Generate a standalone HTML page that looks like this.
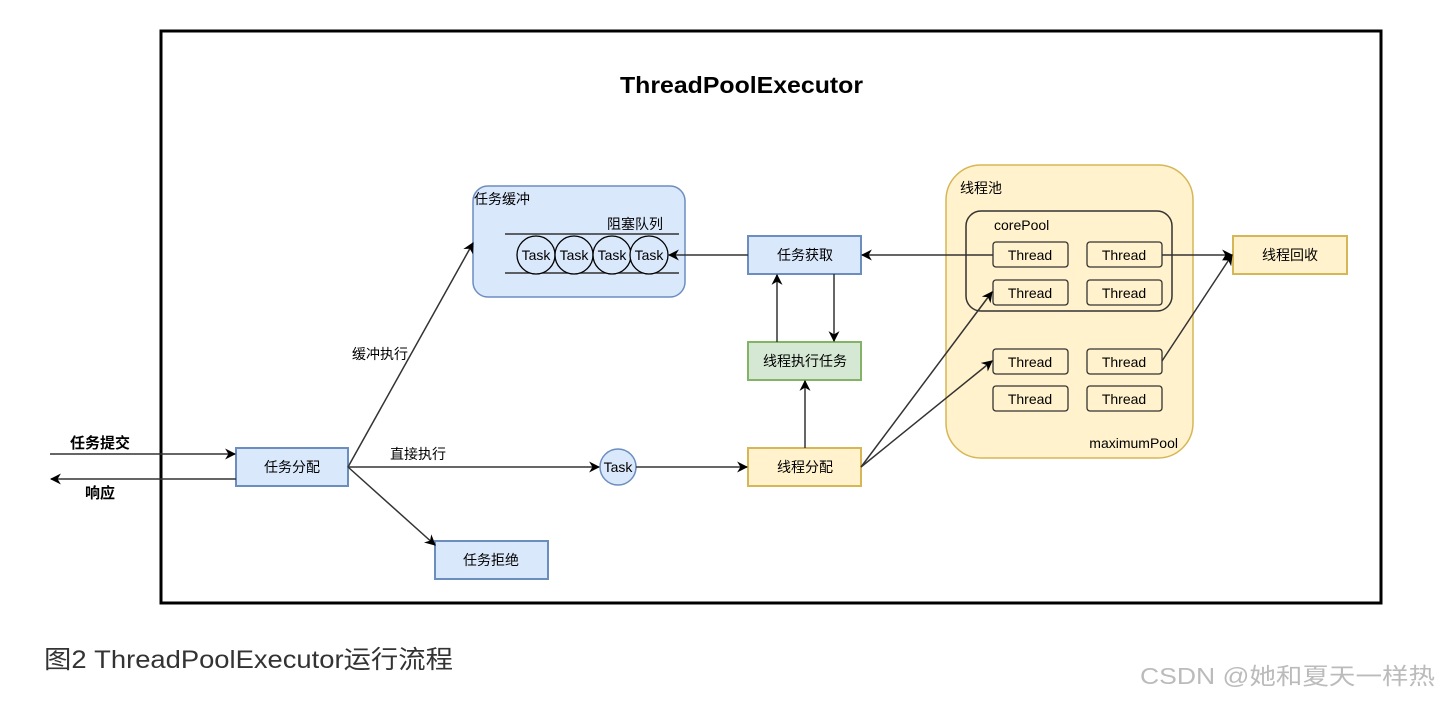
<!DOCTYPE html>
<html><head><meta charset="utf-8"><style>
html,body{margin:0;padding:0;background:#fff;}
svg{display:block;}
text{font-family:"Liberation Sans","Noto Sans CJK SC",sans-serif;}
</style></head><body>
<svg width="1439" height="701" viewBox="0 0 1439 701" xmlns="http://www.w3.org/2000/svg">
<defs>
<marker id="a" viewBox="0 0 10 10" refX="9" refY="5" markerWidth="11" markerHeight="11" orient="auto-start-reverse" markerUnits="userSpaceOnUse"><path d="M0,0 L10,5 L0,10 L3,5 z" fill="#000"/></marker>
</defs>
<rect x="161" y="31" width="1220" height="572" fill="none" stroke="#000" stroke-width="3"/>
<text x="620" y="93" font-size="23" font-weight="bold" textLength="243" lengthAdjust="spacingAndGlyphs">ThreadPoolExecutor</text>

<!-- thread pool -->
<rect x="946" y="165" width="247" height="293" rx="35" fill="#fff2cc" stroke="#d6b656" stroke-width="1.5"/>
<text x="960" y="193" font-size="14">线程池</text>
<rect x="966" y="211" width="206" height="100" rx="15" fill="none" stroke="#333" stroke-width="1.5"/>
<text x="994" y="230" font-size="14">corePool</text>
<text x="1178" y="448" font-size="14" text-anchor="end">maximumPool</text>
<g fill="#fff2cc" stroke="#333" stroke-width="1.3">
<rect x="993" y="242" width="75" height="25" rx="3"/><rect x="1087" y="242" width="75" height="25" rx="3"/>
<rect x="993" y="280" width="75" height="25" rx="3"/><rect x="1087" y="280" width="75" height="25" rx="3"/>
<rect x="993" y="349" width="75" height="25" rx="3"/><rect x="1087" y="349" width="75" height="25" rx="3"/>
<rect x="993" y="386" width="75" height="25" rx="3"/><rect x="1087" y="386" width="75" height="25" rx="3"/>
</g>
<g font-size="14" text-anchor="middle">
<text x="1030" y="260">Thread</text><text x="1124" y="260">Thread</text>
<text x="1030" y="298">Thread</text><text x="1124" y="298">Thread</text>
<text x="1030" y="367">Thread</text><text x="1124" y="367">Thread</text>
<text x="1030" y="404">Thread</text><text x="1124" y="404">Thread</text>
</g>

<!-- buffer -->
<rect x="473" y="186" width="212" height="111" rx="15" fill="#dae8fc" stroke="#6c8ebf" stroke-width="1.5"/>
<text x="474" y="204" font-size="14">任务缓冲</text>
<text x="663" y="229" font-size="14" text-anchor="end">阻塞队列</text>
<line x1="505" y1="234" x2="679" y2="234" stroke="#333" stroke-width="1.5"/>
<line x1="505" y1="273" x2="679" y2="273" stroke="#333" stroke-width="1.5"/>
<g fill="#dae8fc" stroke="#000" stroke-width="1.3">
<circle cx="536" cy="255" r="19"/><circle cx="574" cy="255" r="19"/><circle cx="612" cy="255" r="19"/><circle cx="649" cy="255" r="19"/>
</g>
<g font-size="14" text-anchor="middle">
<text x="536" y="260">Task</text><text x="574" y="260">Task</text><text x="612" y="260">Task</text><text x="649" y="260">Task</text>
</g>

<!-- boxes -->
<rect x="748" y="236" width="113" height="38" fill="#dae8fc" stroke="#6c8ebf" stroke-width="2"/>
<rect x="748" y="342" width="113" height="38" fill="#d5e8d4" stroke="#82b366" stroke-width="2"/>
<rect x="748" y="448" width="113" height="38" fill="#fff2cc" stroke="#d6b656" stroke-width="2"/>
<rect x="236" y="448" width="112" height="38" fill="#dae8fc" stroke="#6c8ebf" stroke-width="2"/>
<rect x="435" y="541" width="113" height="38" fill="#dae8fc" stroke="#6c8ebf" stroke-width="2"/>
<rect x="1233" y="236" width="114" height="38" fill="#fff2cc" stroke="#d6b656" stroke-width="2"/>
<circle cx="618" cy="467" r="18" fill="#dae8fc" stroke="#6c8ebf" stroke-width="1.5"/>
<g font-size="14" text-anchor="middle">
<text x="805" y="260">任务获取</text>
<text x="805" y="366">线程执行任务</text>
<text x="805" y="472">线程分配</text>
<text x="292" y="472">任务分配</text>
<text x="491" y="565">任务拒绝</text>
<text x="1290" y="260">线程回收</text>
<text x="618" y="472">Task</text>
<text x="380" y="359">缓冲执行</text>
<text x="418" y="459">直接执行</text>
</g>
<text x="100" y="448" font-size="15" font-weight="bold" text-anchor="middle">任务提交</text>
<text x="100" y="498" font-size="15" font-weight="bold" text-anchor="middle">响应</text>

<!-- connectors -->
<g stroke="#333" stroke-width="1.5" fill="none" marker-end="url(#a)">
<line x1="50" y1="454" x2="235" y2="454"/>
<line x1="236" y1="479" x2="51" y2="479"/>
<line x1="348" y1="467" x2="473" y2="243"/>
<line x1="348" y1="467" x2="599" y2="467"/>
<line x1="348" y1="467" x2="435" y2="545"/>
<line x1="636" y1="467" x2="747" y2="467"/>
<line x1="805" y1="448" x2="805" y2="381"/>
<line x1="777" y1="342" x2="777" y2="275"/>
<line x1="834" y1="274" x2="834" y2="341"/>
<line x1="748" y1="255" x2="669" y2="255"/>
<line x1="993" y1="255" x2="862" y2="255"/>
<line x1="1162" y1="255" x2="1232" y2="255"/>
<line x1="861" y1="467" x2="992" y2="292"/>
<line x1="861" y1="467" x2="992" y2="361"/>
<line x1="1162" y1="361" x2="1232" y2="255"/>
</g>

<text x="44" y="668" font-size="25" fill="#333" textLength="409" lengthAdjust="spacingAndGlyphs">图2 ThreadPoolExecutor运行流程</text>
<text x="1140" y="684" font-size="23" fill="#bbb" textLength="295" lengthAdjust="spacingAndGlyphs">CSDN @她和夏天一样热</text>
</svg>
</body></html>
